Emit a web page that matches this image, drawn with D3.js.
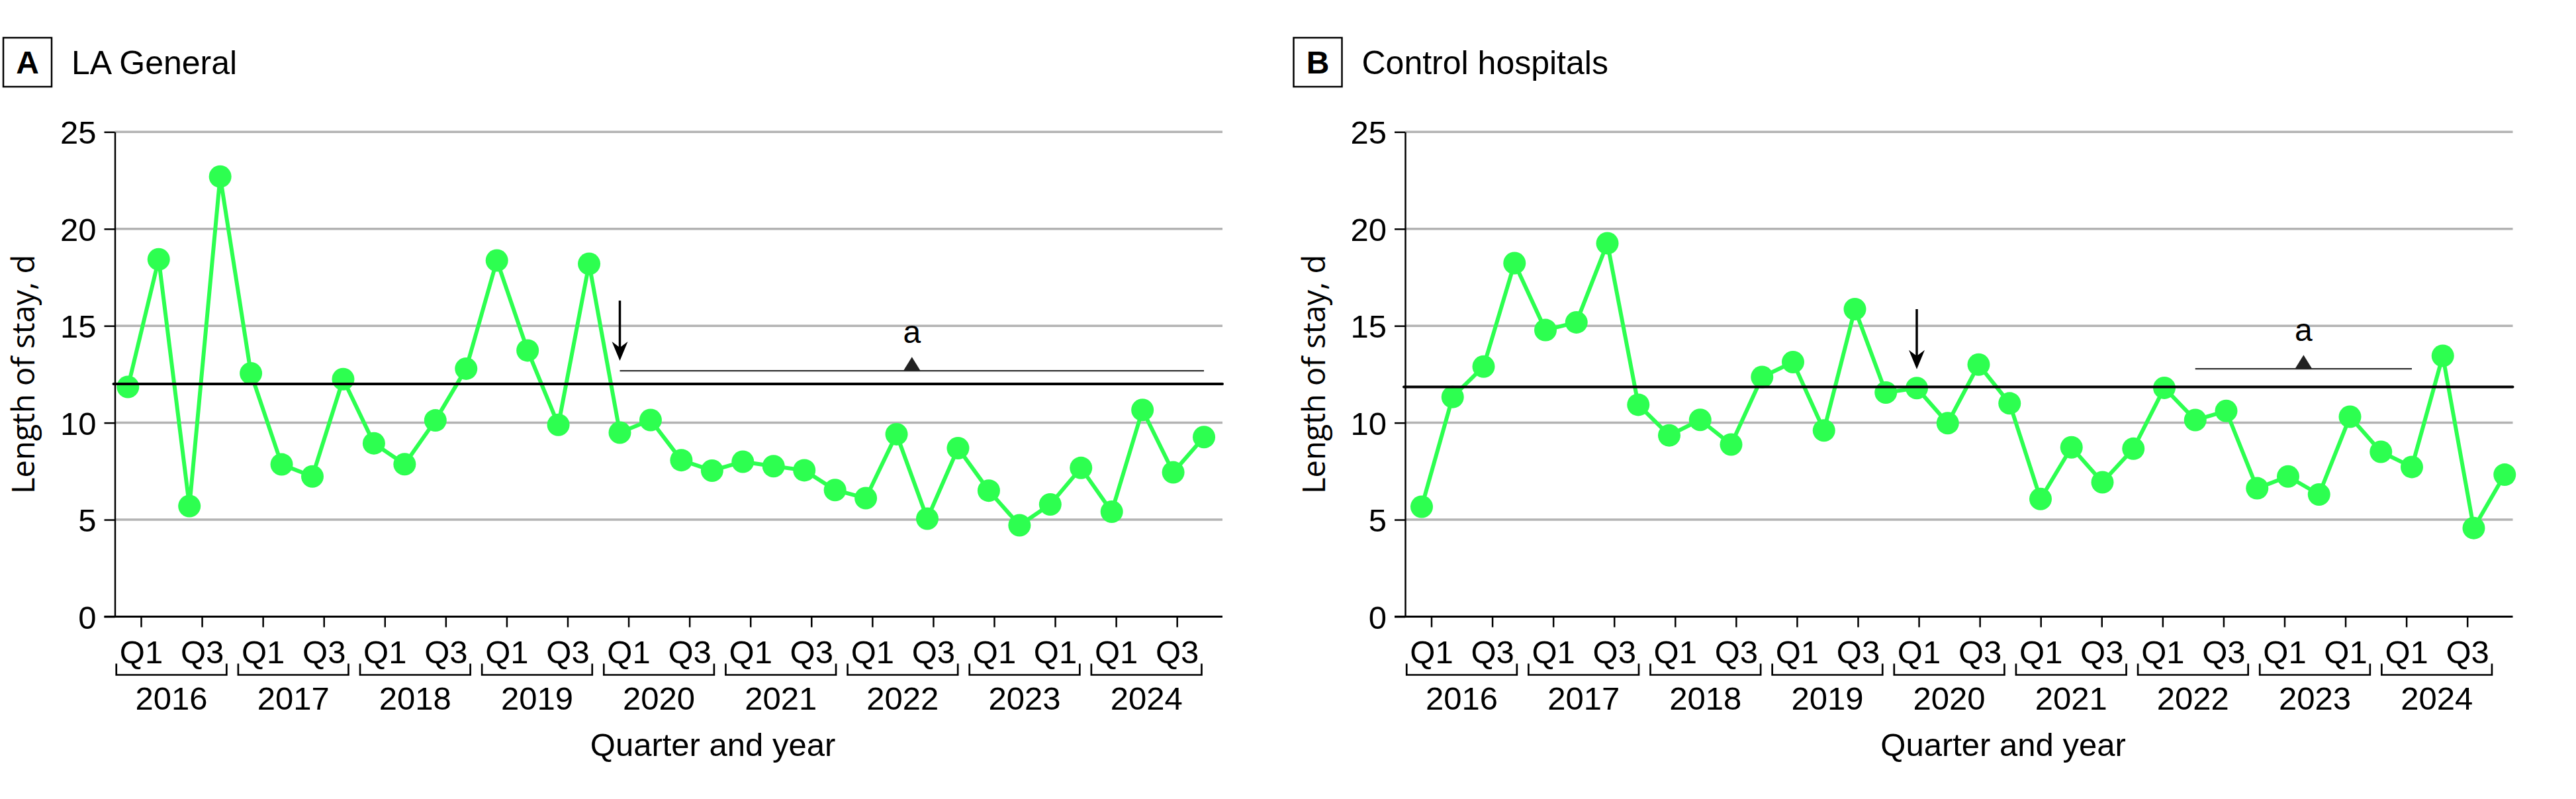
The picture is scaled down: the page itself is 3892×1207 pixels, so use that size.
<!DOCTYPE html>
<html>
<head>
<meta charset="utf-8">
<script src="https://cdn.jsdelivr.net/npm/d3@7"></script>
<style>
  html, body { margin: 0; padding: 0; background: #fff; }
  text { font-family: "Liberation Sans", Arial, sans-serif; fill: #000; }
  .y-title { font-family: "Open Sans", "Noto Sans", sans-serif; }
</style>
</head>
<body>
<div id="chart"></div>
<script>
// ---- data ----
const YEARS = ['2016', '2017', '2018', '2019', '2020', '2021', '2022', '2023', '2024'];
const QUARTER_NAMES = ['Q1', 'Q2', 'Q3', 'Q4'];
// tick labels as printed (2023 shows Q1 twice in the original)
const TICK_LABELS = [
    'Q1', 'Q3', 'Q1', 'Q3', 'Q1', 'Q3', 'Q1', 'Q3', 'Q1', 'Q3',
    'Q1', 'Q3', 'Q1', 'Q3', 'Q1', 'Q1', 'Q1', 'Q3',
];
const Y_TICKS = [0, 5, 10, 15, 20, 25];

const LA_GENERAL = [
    11.85, 18.43, 5.70, 22.7, 12.55, 7.85, 7.23, 12.25, 8.94, 7.86, 10.12, 12.79,
    18.37, 13.73, 9.89, 18.2, 9.49, 10.14, 8.07, 7.53, 7.99, 7.76, 7.55, 6.53,
    6.11, 9.41, 5.05, 8.69, 6.5, 4.71, 5.79, 7.67, 5.41, 10.66, 7.44, 9.26,
];
const CONTROL = [
    5.67, 11.33, 12.90, 18.23, 14.78, 15.18, 19.26, 10.93, 9.35, 10.15, 8.88, 12.36,
    13.13, 9.60, 15.86, 11.56, 11.79, 9.98, 13.0, 11.0, 6.07, 8.73, 6.93, 8.66,
    11.8, 10.14, 10.61, 6.62, 7.23, 6.3, 10.31, 8.5, 7.72, 13.45, 4.57, 7.32,
];
const MEAN_LA = 12.0;
const MEAN_CONTROL = 11.85;
const INTERVENTION_Q = 16;          // 2020 Q1
const SIGNIF_LA = [16, 35];         // span marked "a"
const SIGNIF_CONTROL = [25, 32];

const QUARTER_KEYS = YEARS.flatMap((y) => QUARTER_NAMES.map((q) => `${y} ${q}`));

// ---- layout ----
const WIDTH = 3892;
const HEIGHT = 1207;
const PLOT_W = 1673.5;
const PLOT_TOP = 199.3;
const PLOT_BOTTOM = 931.5;
const GREEN = '#2dff50';

const svg = d3.select('#chart')
    .append('svg')
    .attr('width', WIDTH)
    .attr('height', HEIGHT)
    .style('display', 'block');

svg.append('rect').attr('width', WIDTH).attr('height', HEIGHT).attr('fill', '#fff');

const yScale = d3.scaleLinear().domain([0, 25]).range([PLOT_BOTTOM - PLOT_TOP, 0]);

function drawPanel(opts) {
    const { left, letter, title, values, mean, signif, ptStart, ptStep, aLevel, arrowTop } = opts;
    const innerH = PLOT_BOTTOM - PLOT_TOP;

    // panel heading
    const head = svg.append('g').attr('transform', `translate(${left - 168.5}, 0)`);
    head.append('rect')
        .attr('x', 0).attr('y', 57).attr('width', 73).attr('height', 74)
        .attr('fill', 'none').attr('stroke', '#000').attr('stroke-width', 2.5);
    head.append('text')
        .attr('x', 36.5).attr('y', 111)
        .attr('text-anchor', 'middle')
        .attr('font-size', 48).attr('font-weight', 'bold')
        .text(letter);
    head.append('text')
        .attr('x', 103).attr('y', 112)
        .attr('font-size', 50)
        .text(title);

    const g = svg.append('g').attr('transform', `translate(${left}, ${PLOT_TOP})`);

    const xPt = d3.scalePoint()
        .domain(QUARTER_KEYS)
        .range([ptStart, ptStart + ptStep * (QUARTER_KEYS.length - 1)]);
    const xTick = d3.scalePoint()
        .domain(d3.range(TICK_LABELS.length))
        .range([39.5, 39.5 + 92.07 * (TICK_LABELS.length - 1)]);

    // grid
    g.append('g')
        .selectAll('line')
        .data(Y_TICKS.filter((d) => d > 0))
        .join('line')
        .attr('x1', 0).attr('x2', PLOT_W)
        .attr('y1', (d) => yScale(d)).attr('y2', (d) => yScale(d))
        .attr('stroke', '#b3b3b3').attr('stroke-width', 3.5);

    // y axis
    const yAxis = g.append('g')
        .call(d3.axisLeft(yScale).tickValues(Y_TICKS).tickSize(16).tickSizeOuter(0).tickPadding(12));
    yAxis.select('.domain').attr('stroke', '#000').attr('stroke-width', 2.5);
    yAxis.selectAll('.tick line').attr('stroke', '#000').attr('stroke-width', 2.5);
    yAxis.selectAll('.tick text')
        .attr('font-size', 49).attr('font-family', '"Liberation Sans", Arial, sans-serif')
        .attr('fill', '#000').attr('dy', '0.36em');

    // x axis line (runs under the 0 tick)
    g.append('line')
        .attr('x1', -16).attr('x2', PLOT_W)
        .attr('y1', innerH).attr('y2', innerH)
        .attr('stroke', '#000').attr('stroke-width', 3);

    const xAxis = g.append('g')
        .attr('transform', `translate(0, ${innerH})`)
        .call(d3.axisBottom(xTick).tickSize(16).tickSizeOuter(0).tickPadding(20)
            .tickFormat((i) => TICK_LABELS[i]));
    xAxis.select('.domain').remove();
    xAxis.selectAll('.tick line').attr('stroke', '#000').attr('stroke-width', 2.5);
    xAxis.selectAll('.tick text')
        .attr('font-size', 49).attr('font-family', '"Liberation Sans", Arial, sans-serif')
        .attr('fill', '#000');

    // year brackets
    const years = g.append('g').attr('transform', `translate(0, ${innerH})`);
    const yearMid = (i) => (xTick(2 * i) + xTick(2 * i + 1)) / 2;
    years.selectAll('path')
        .data(YEARS)
        .join('path')
        .attr('d', (d, i) => `M${yearMid(i) - 83.3},71V88H${yearMid(i) + 83.3}V71`)
        .attr('fill', 'none').attr('stroke', '#000').attr('stroke-width', 2.7);
    years.selectAll('text')
        .data(YEARS)
        .join('text')
        .attr('x', (d, i) => yearMid(i))
        .attr('y', 140.5)
        .attr('text-anchor', 'middle')
        .attr('font-size', 49)
        .text((d) => d);

    // axis titles
    g.append('text')
        .attr('x', 903.5).attr('y', innerH + 211)
        .attr('text-anchor', 'middle')
        .attr('font-size', 49)
        .text('Quarter and year');
    g.append('text')
        .attr('class', 'y-title')
        .attr('transform', `translate(${52 - 173.5}, ${innerH / 2}) rotate(-90)`)
        .attr('text-anchor', 'middle')
        .attr('font-size', 47)
        .text('Length of stay, d');

    // series
    const pts = values.map((v, i) => ({ key: QUARTER_KEYS[i], v }));
    const line = d3.line().x((d) => xPt(d.key)).y((d) => yScale(d.v));
    g.append('path')
        .attr('d', line(pts))
        .attr('fill', 'none').attr('stroke', GREEN).attr('stroke-width', 6)
        .attr('stroke-linejoin', 'round');
    g.append('g')
        .selectAll('circle')
        .data(pts)
        .join('circle')
        .attr('cx', (d) => xPt(d.key))
        .attr('cy', (d) => yScale(d.v))
        .attr('r', 17)
        .attr('fill', GREEN);

    // mean line
    g.append('line')
        .attr('x1', -2).attr('x2', PLOT_W)
        .attr('y1', yScale(mean)).attr('y2', yScale(mean))
        .attr('stroke', '#000').attr('stroke-width', 4).attr('stroke-linecap', 'round');

    // intervention arrow
    const ax = xPt(QUARTER_KEYS[INTERVENTION_Q]);
    const tip = yScale(arrowTop - 3.1);
    g.append('line')
        .attr('x1', ax).attr('x2', ax)
        .attr('y1', yScale(arrowTop)).attr('y2', tip - 18)
        .attr('stroke', '#000').attr('stroke-width', 3.5);
    g.append('path')
        .attr('d', `M${ax},${tip}L${ax - 12},${tip - 29}L${ax},${tip - 20}L${ax + 12},${tip - 29}Z`)
        .attr('fill', '#000');

    // significance span "a"
    const sx0 = xPt(QUARTER_KEYS[signif[0]]);
    const sx1 = xPt(QUARTER_KEYS[signif[1]]);
    const sy = yScale(aLevel);
    const mid = (sx0 + sx1) / 2;
    g.append('line')
        .attr('x1', sx0).attr('x2', sx1)
        .attr('y1', sy).attr('y2', sy)
        .attr('stroke', '#333').attr('stroke-width', 2.2);
    g.append('path')
        .attr('d', `M${mid - 13},${sy}L${mid},${sy - 21}L${mid + 13},${sy}Z`)
        .attr('fill', '#222');
    g.append('text')
        .attr('x', mid).attr('y', sy - 42)
        .attr('text-anchor', 'middle')
        .attr('font-size', 48)
        .text('a');
}

drawPanel({
    left: 173.5, letter: 'A', title: 'LA General', values: LA_GENERAL, mean: MEAN_LA,
    signif: SIGNIF_LA, ptStart: 19.8, ptStep: 46.45, aLevel: 12.68, arrowTop: 16.3,
});
drawPanel({
    left: 2123, letter: 'B', title: 'Control hospitals', values: CONTROL, mean: MEAN_CONTROL,
    signif: SIGNIF_CONTROL, ptStart: 25, ptStep: 46.75, aLevel: 12.78, arrowTop: 15.86,
});
</script>
</body>
</html>
